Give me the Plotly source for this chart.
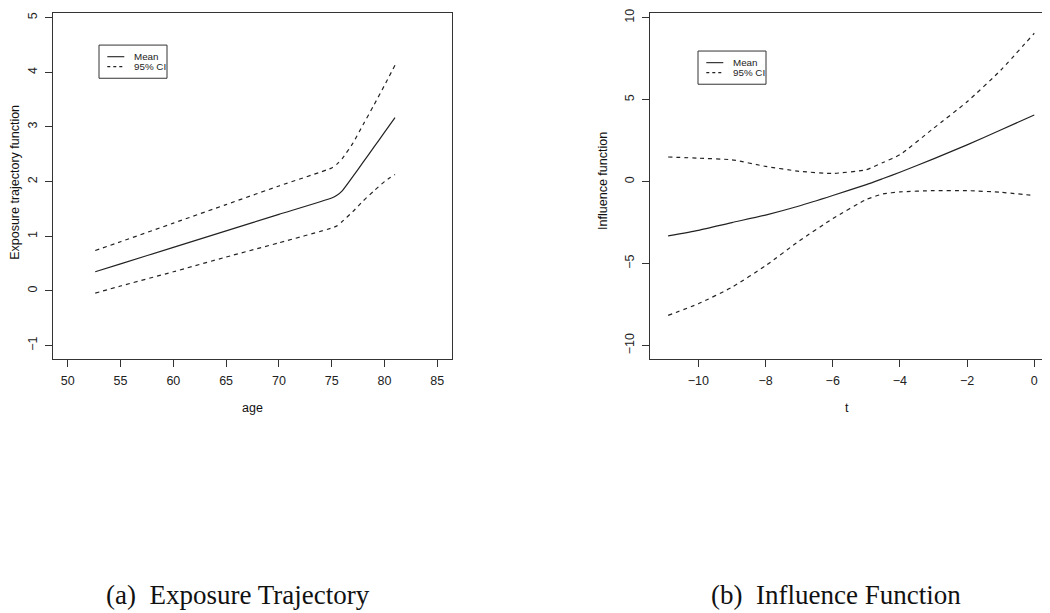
import plotly.graph_objects as go

# ---- Panel (a): exposure trajectory ----
age = [52.6, 55, 60, 65, 70, 75, 75.5, 76, 77, 78, 79, 80, 81]
traj_mean = [0.35, 0.495, 0.796, 1.098, 1.40, 1.70, 1.75, 1.83, 2.09, 2.36, 2.63, 2.90, 3.17]
traj_upper = [0.74, 0.90, 1.24, 1.58, 1.92, 2.25, 2.32, 2.42, 2.70, 3.05, 3.40, 3.76, 4.13]
traj_lower = [-0.04, 0.09, 0.35, 0.62, 0.88, 1.15, 1.19, 1.27, 1.45, 1.65, 1.83, 2.00, 2.13]

# ---- Panel (b): influence function ----
t = [-10.9, -10, -9, -8, -7, -6, -5, -4.5, -4, -3, -2, -1, 0]
infl_mean = [-3.31, -2.97, -2.50, -2.04, -1.49, -0.85, -0.18, 0.19, 0.57, 1.39, 2.24, 3.15, 4.06]
infl_upper = [1.50, 1.43, 1.33, 0.93, 0.63, 0.50, 0.73, 1.17, 1.64, 3.25, 4.87, 6.79, 9.05]
infl_lower = [-8.16, -7.45, -6.44, -5.13, -3.62, -2.26, -1.09, -0.75, -0.63, -0.55, -0.55, -0.65, -0.85]

age_ticks = [50, 55, 60, 65, 70, 75, 80, 85]
traj_ticks = [-1, 0, 1, 2, 3, 4, 5]
t_ticks = [-10, -8, -6, -4, -2, 0]
infl_ticks = [-10, -5, 0, 5, 10]

legend_labels = ["Mean", "95% CI"]

INK = "#222222"
DASH = "4px,4px"
FONT = "Liberation Sans, Arial, sans-serif"
SERIF = "Liberation Serif, Times New Roman, serif"

# page has an 8px body margin: build figure in page coordinates offset by it
OFF = 8
W, H = 1050 - OFF, 613 - OFF


def fx(px):
    return (px - OFF) / W


def fy(py):
    return 1 - (py - OFF) / H


fig = go.Figure()


def add_panel(x, mean, upper, lower, xa, ya):
    fig.add_trace(go.Scatter(x=x, y=mean, mode="lines", name=legend_labels[0],
                             line=dict(color=INK, width=1.2, shape="spline", smoothing=0.5),
                             xaxis=xa, yaxis=ya, showlegend=False))
    fig.add_trace(go.Scatter(x=x, y=upper, mode="lines", name=legend_labels[1],
                             line=dict(color=INK, width=1.2, dash=DASH, shape="spline", smoothing=0.5),
                             xaxis=xa, yaxis=ya, showlegend=False))
    fig.add_trace(go.Scatter(x=x, y=lower, mode="lines", name=legend_labels[1],
                             line=dict(color=INK, width=1.2, dash=DASH, shape="spline", smoothing=0.5),
                             xaxis=xa, yaxis=ya, showlegend=False))


add_panel(age, traj_mean, traj_upper, traj_lower, "x", "y")
add_panel(t, infl_mean, infl_upper, infl_lower, "x2", "y2")

TOP = 9  # topmost visible row for the frame
ydom = [fy(357), fy(TOP)]

axis_common = dict(showline=True, mirror=True, linecolor="#333333", linewidth=1,
                   ticks="outside", ticklen=7, tickcolor="#333333", tickwidth=1,
                   showgrid=False, zeroline=False, ticklabeloverflow="allow",
                   tickfont=dict(family=FONT, size=12.5, color="#222222"))

fig.update_layout(
    width=W, height=H,
    margin=dict(l=0, r=0, t=0, b=0),
    paper_bgcolor="white", plot_bgcolor="white",
    font=dict(family=FONT, color="#222222"),
    showlegend=False,
    xaxis=dict(domain=[fx(53), fx(452)], range=[48.6, 86.4], tickmode="array",
               tickvals=age_ticks, anchor="y", ticklabelstandoff=3, **axis_common),
    yaxis=dict(domain=ydom, range=[-1.24, -1 + (344 - TOP) / 55.05], tickmode="array",
               tickvals=traj_ticks, tickangle=-90, anchor="x", ticklabelstandoff=3, **axis_common),
    xaxis2=dict(domain=[fx(650), fx(1044)], range=[-11.44, 0.29], tickmode="array",
                tickvals=t_ticks, anchor="y2", ticklabelstandoff=3, **axis_common),
    yaxis2=dict(domain=ydom, range=[-10.8, 10 + (13.7 - TOP) / 16.515], tickmode="array",
                tickvals=infl_ticks, tickangle=-90, anchor="x2", ticklabelstandoff=3, **axis_common),
)

# legends (R-style boxed keys)
legend_boxes = [
    dict(box=(99, 41.3, 167, 74.7), line_x=(107.3, 124.3), rows=(53, 63), text_x=131.5),
    dict(box=(698, 47.3, 766, 80.7), line_x=(706.3, 723.3), rows=(59, 69), text_x=730.5),
]
for lb in legend_boxes:
    x0, y0, x1, y1 = lb["box"]
    fig.add_shape(type="rect", xref="paper", yref="paper", x0=fx(x0), x1=fx(x1),
                  y0=fy(y1), y1=fy(y0), line=dict(color="#333333", width=1),
                  fillcolor="white", layer="above")
    for i, ry in enumerate(lb["rows"]):
        fig.add_shape(type="line", xref="paper", yref="paper",
                      x0=fx(lb["line_x"][0]), x1=fx(lb["line_x"][1]), y0=fy(ry), y1=fy(ry),
                      line=dict(color=INK, width=1.1, dash="solid" if i == 0 else "3px,3px"),
                      layer="above")
        fig.add_annotation(text=legend_labels[i], x=fx(lb["text_x"]), y=fy(ry),
                           xref="paper", yref="paper", showarrow=False,
                           xanchor="left", yanchor="middle",
                           font=dict(family=FONT, size=9.8, color="#222222"))

ann = [
    dict(text="age", x=fx(252.5), y=fy(407), size=12.5, angle=0, fam=FONT),
    dict(text="Exposure trajectory function", x=fx(15), y=fy(180), size=12.5, angle=-90, fam=FONT),
    dict(text="t", x=fx(847), y=fy(407), size=12.5, angle=0, fam=FONT),
    dict(text="Influence function", x=fx(603), y=fy(178), size=12.5, angle=-90, fam=FONT),
    dict(text="(a)  Exposure Trajectory", x=fx(237.5), y=fy(595), size=27, angle=0, fam=SERIF),
    dict(text="(b)  Influence Function", x=fx(835.5), y=fy(595), size=27, angle=0, fam=SERIF),
]
for a in ann:
    fig.add_annotation(text=a["text"], x=a["x"], y=a["y"], xref="paper", yref="paper",
                       showarrow=False, textangle=a["angle"], xanchor="center", yanchor="middle",
                       font=dict(family=a["fam"], size=a["size"], color="#111111"))

fig.write_html("out.html")
